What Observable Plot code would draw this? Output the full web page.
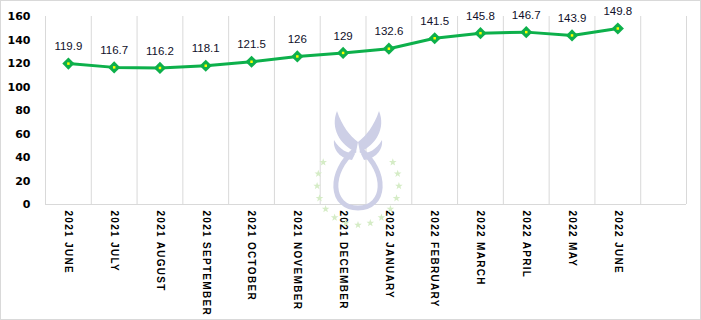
<!DOCTYPE html>
<html><head><meta charset="utf-8">
<script src="https://cdn.jsdelivr.net/npm/d3@7"></script>
<script src="https://cdn.jsdelivr.net/npm/@observablehq/plot@0.6"></script>
<style>
body{margin:0;background:#fff}
#wrap{position:relative;width:701px;height:320px;overflow:hidden}
#wrap > svg{position:absolute;left:0;top:0}
#frame{position:absolute;left:0;top:0;width:699px;height:318px;border:1px solid #d9d9d9;pointer-events:none}
g[aria-label="x-axis tick label"] text{letter-spacing:1.3px}
</style></head><body><div id="wrap"><div id="frame"></div></div>
<script>
const months = ["2021 JUNE","2021 JULY","2021 AUGUST","2021 SEPTEMBER","2021 OCTOBER","2021 NOVEMBER","2021 DECEMBER","2022 JANUARY","2022 FEBRUARY","2022 MARCH","2022 APRIL","2022 MAY","2022 JUNE"];
const values = [119.9,116.7,116.2,118.1,121.5,126,129,132.6,141.5,145.8,146.7,143.9,149.8];
const yTicks = [0,20,40,60,80,100,120,140,160];
const slotCount = 14; // one empty category slot after the last month

const data = months.map((m, i) => ({month: m, pos: i + 0.5, value: values[i]}));
const green = "#0db04b";

// decorative watermark (logo) behind the chart
const wrap = document.getElementById("wrap");
const ns = "http://www.w3.org/2000/svg";
const wm = document.createElementNS(ns, "svg");
wm.setAttribute("width", 701); wm.setAttribute("height", 320);
const starPath = d3.range(10).map(j => {
  const rr = j % 2 ? 1.6 : 4, a = -Math.PI / 2 + j * Math.PI / 5;
  return (j ? "L" : "M") + (rr * Math.cos(a)).toFixed(2) + "," + (rr * Math.sin(a)).toFixed(2);
}).join("") + "Z";
let stars = "";
const nStars = 15;
for (let k = 0; k < nStars; k++) {
  const deg = 148 + k * (244 / (nStars - 1));
  const a = deg * Math.PI / 180;
  const cx = 358 + 41 * Math.cos(a), cy = 184 - 41 * Math.sin(a);
  stars += `<path transform="translate(${cx.toFixed(1)},${cy.toFixed(1)})" d="${starPath}" fill="#d5ecc6"/>`;
}
wm.innerHTML = `
<g fill="none" stroke="#cdcfe6" stroke-width="5">
<path d="M355,150 C328,172 330,208 358,208 C386,208 388,172 361,150"/>
</g>
<g fill="#cdcfe6">
<path d="M356,152 C340,145 330,128 337,111 C342,126 350,136 358,142 Z"/>
<path d="M360,152 C376,145 386,128 379,111 C374,126 366,136 358,142 Z"/>
<path d="M352,160 C338,158 333,148 334,140 C340,150 347,153 355,154 Z"/>
<path d="M364,160 C378,158 383,148 382,140 C376,150 369,153 361,154 Z"/>
</g>${stars}`;
wrap.appendChild(wm);

const chart = Plot.plot({
  width: 701,
  height: 320,
  marginLeft: 45,
  marginRight: 15,
  marginTop: 16,
  marginBottom: 116,
  style: {background: "transparent", overflow: "visible"},
  x: {domain: [0, slotCount], axis: null, label: null},
  y: {domain: [0, 160], axis: null, label: null},
  marks: [
    Plot.ruleX(d3.range(0, slotCount + 1), {x: d => d, y1: 0, y2: 160, stroke: "#d9d9d9", strokeWidth: 1}),
    Plot.ruleY([0], {stroke: "#d9d9d9", strokeWidth: 1.2}),
    Plot.axisY({ticks: yTicks, label: null, tickSize: 0, tickPadding: 15, fontSize: 11, fontWeight: "bold", fontFamily: "DejaVu Sans", fill: "#000"}),
    Plot.axisX({ticks: data.map(d => d.pos), label: null, tickFormat: t => months[Math.floor(t)], tickRotate: 90, tickSize: 0, tickPadding: 6, fontSize: 10, fontWeight: "bold", fontFamily: "Liberation Sans", fill: "#000"}),
    Plot.line(data, {x: "pos", y: "value", stroke: green, strokeWidth: 3}),
    Plot.dot(data, {x: "pos", y: "value", symbol: "diamond2", r: 5.5, fill: green, stroke: "none"}),
    Plot.dot(data, {x: "pos", y: "value", symbol: "square", r: 1.4, fill: "#ffff00", stroke: "none"}),
    Plot.text(data, {x: "pos", y: "value", text: d => String(d.value), dy: -17, fontSize: 11.5, fontFamily: "Liberation Sans", fill: "#10102a"})
  ]
});
wrap.insertBefore(chart, document.getElementById("frame"));
</script>
</body></html>
